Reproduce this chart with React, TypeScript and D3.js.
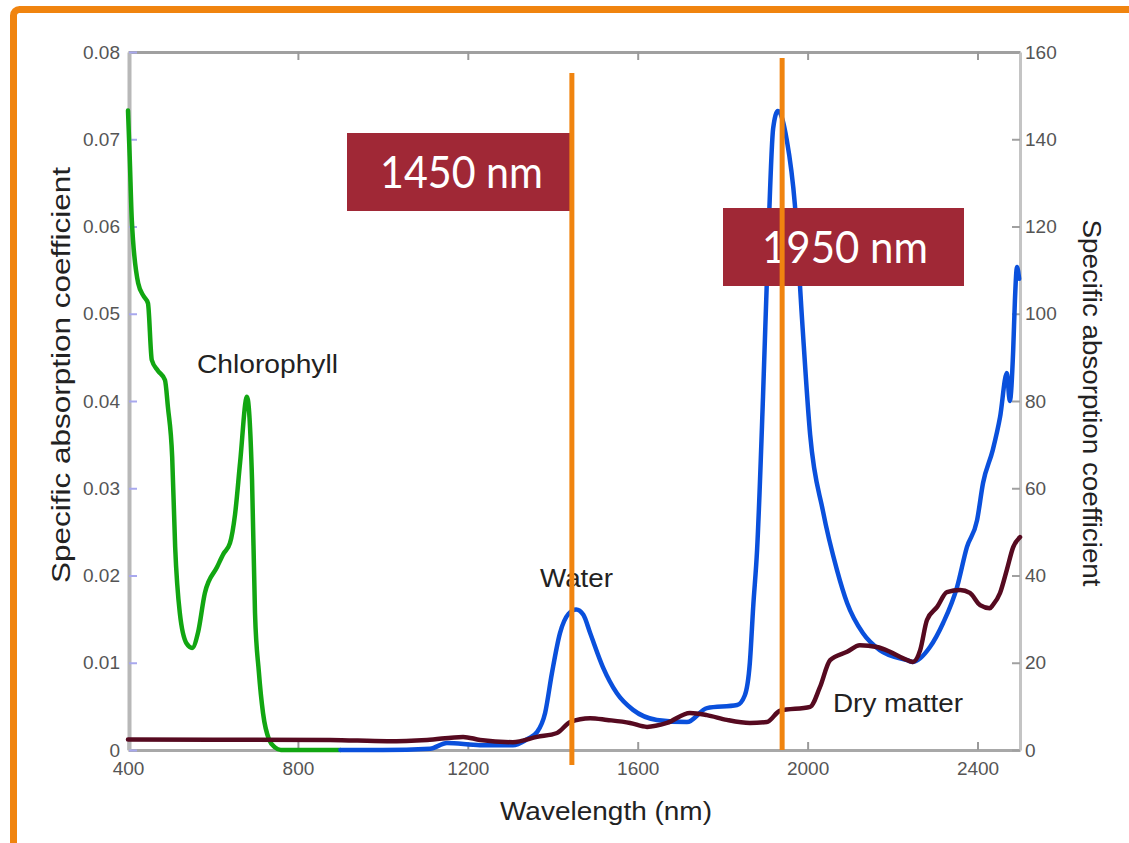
import { useEffect, useRef } from "react";
import * as d3 from "d3";

const width = 1129;
const height = 843;
const margin = { top: 52, right: 109, bottom: 93, left: 128 };

// Chlorophyll (left axis)
const chlWavelength = [400, 404, 409, 424, 437, 447, 456, 470, 487, 494, 504, 511, 522, 538, 551, 565, 581, 610, 625, 640, 652, 664, 680, 692, 699, 708, 718, 732, 746, 760, 900];
const chlValue = [0.0733, 0.068, 0.0607, 0.0535, 0.052, 0.0512, 0.0447, 0.0435, 0.0424, 0.0393, 0.0336, 0.0233, 0.0157, 0.0122, 0.0117, 0.0135, 0.018, 0.021, 0.0225, 0.0237, 0.027, 0.033, 0.0405, 0.031, 0.0157, 0.009, 0.0042, 0.0012, 0.0003, 0, 0];

// Water (right axis)
const waterWavelength = [900, 1000, 1111, 1151, 1229, 1306, 1340, 1363, 1382, 1398, 1417, 1437, 1455, 1472, 1488, 1518, 1551, 1589, 1645, 1716, 1763, 1834, 1852, 1864, 1872, 1881, 1895, 1907, 1919, 1930, 1951, 1970, 1987, 2006, 2036, 2069, 2093, 2130, 2170, 2234, 2248, 2288, 2319, 2352, 2375, 2399, 2413, 2436, 2453, 2469, 2476, 2484, 2488, 2493, 2498];
const waterValue = [0, 0, 0.3, 1.6, 1.1, 1.1, 2.5, 4.1, 8.5, 17.6, 26.8, 31.2, 32.2, 31.0, 26.8, 19, 13, 9.2, 6.9, 6.4, 9.6, 10.3, 12.5, 20, 33, 45.8, 81, 116, 142.6, 146.5, 139.8, 125, 98.6, 72.2, 54.8, 41.3, 33.7, 26.8, 22.9, 20.6, 20.2, 23.6, 29.1, 37.4, 46.5, 52.7, 61.2, 68.8, 76.3, 86.4, 80, 91.7, 103, 110.7, 108];

// Dry matter (right axis)
const dryWavelength = [400, 876, 1010, 1104, 1189, 1229, 1306, 1363, 1410, 1441, 1488, 1528, 1582, 1622, 1669, 1723, 1763, 1810, 1864, 1904, 1935, 2006, 2029, 2053, 2093, 2123, 2163, 2194, 2225, 2248, 2265, 2281, 2305, 2328, 2359, 2382, 2406, 2429, 2436, 2453, 2469, 2484, 2500];
const dryValue = [2.4, 2.3, 2.0, 2.3, 3.0, 2.3, 1.8, 3.0, 3.9, 6.4, 7.3, 6.9, 6.2, 5.3, 6.2, 8.5, 8.0, 6.9, 6.2, 6.4, 9.0, 9.9, 14.4, 20.6, 22.5, 24, 23.6, 22.5, 21, 20.2, 22.9, 29.8, 32.8, 36.2, 36.7, 36, 33.2, 32.5, 33.2, 36, 41.3, 46.5, 48.8];

const xTicks = [400, 800, 1200, 1600, 2000, 2400];
const leftTicks = [0, 0.01, 0.02, 0.03, 0.04, 0.05, 0.06, 0.07, 0.08];
const rightTicks = [0, 20, 40, 60, 80, 100, 120, 140, 160];

// marked wavelengths (as drawn) and their captions
const markerWavelength = [1445, 1940];
const markerLabel = ["1450 nm", "1950 nm"];

const curveLabels = ["Chlorophyll", "Water", "Dry matter"];

const orange = "#f0840f";
const boxColor = "#a02836";
const tickFont = "'Liberation Sans', Arial, sans-serif";

const App = () => {
  const xAxisRef = useRef(null);
  const xTopRef = useRef(null);
  const yLeftRef = useRef(null);
  const yRightRef = useRef(null);

  const xScale = d3.scaleLinear().domain([400, 2500]).range([margin.left, width - margin.right]);
  const yLeft = d3.scaleLinear().domain([0, 0.08]).range([height - margin.bottom, margin.top]);
  const yRight = d3.scaleLinear().domain([0, 160]).range([height - margin.bottom, margin.top]);

  const line = d3
    .line<[number, number]>()
    .x((d) => xScale(d[0]))
    .y((d) => d[1])
    .curve(d3.curveMonotoneX);

  const chlPath = line(chlWavelength.map((w, i) => [w, yLeft(chlValue[i])]));
  const waterPath = line(waterWavelength.map((w, i) => [w, yRight(waterValue[i])]));
  const dryPath = line(dryWavelength.map((w, i) => [w, yRight(dryValue[i])]));

  // Draw the axes
  useEffect(() => {
    const styleTicks = (g: any) => {
      g.selectAll(".tick text")
        .attr("font-size", 19)
        .attr("font-family", tickFont)
        .attr("fill", "#555");
    };

    if (xAxisRef.current) {
      const g = d3.select(xAxisRef.current);
      g.call(
        d3.axisBottom(xScale).tickValues(xTicks).tickFormat(d3.format("d")).tickSizeInner(-8).tickSizeOuter(0).tickPadding(12)
      );
      g.select(".domain").attr("stroke", "#a8a8a8").attr("stroke-width", 3);
      g.selectAll(".tick line").attr("stroke", "#9a9a9a").attr("stroke-width", 2);
      styleTicks(g);
    }

    if (xTopRef.current) {
      const g = d3.select(xTopRef.current);
      g.call(d3.axisTop(xScale).tickValues(xTicks.slice(1)).tickFormat(() => "").tickSizeInner(-8).tickSizeOuter(0));
      g.select(".domain").attr("stroke", "#a0a0a0").attr("stroke-width", 3);
      g.selectAll(".tick line").attr("stroke", "#9a9a9a").attr("stroke-width", 2);
    }

    if (yLeftRef.current) {
      const g = d3.select(yLeftRef.current);
      g.call(
        d3
          .axisLeft(yLeft)
          .tickValues(leftTicks)
          .tickFormat((d: any) => (d === 0 ? "0" : d3.format(".2f")(d)))
          .tickSizeInner(-8)
          .tickSizeOuter(0)
          .tickPadding(9)
      );
      g.select(".domain").attr("stroke", "#b8b8b8").attr("stroke-width", 4);
      g.selectAll(".tick line").attr("stroke", "#a8a8ee").attr("stroke-width", 2);
      styleTicks(g);
    }

    if (yRightRef.current) {
      const g = d3.select(yRightRef.current);
      g.call(d3.axisRight(yRight).tickValues(rightTicks).tickSizeInner(-8).tickSizeOuter(0).tickPadding(5));
      g.select(".domain").attr("stroke", "#c4c4c4").attr("stroke-width", 3);
      g.selectAll(".tick line").attr("stroke", "#a0a0a0").attr("stroke-width", 2);
      styleTicks(g);
    }
  }, []);

  const boxes = [
    { x: 347, y: 133, w: 226, h: 78, tx: 380, tw: 163 },
    { x: 723, y: 208, w: 241, h: 78, tx: 762, tw: 166 },
  ];

  return (
    <svg
      width={width}
      height={height}
      style={{ position: "absolute", left: 0, top: 0, background: "#fff" }}
    >
      {/* slide frame */}
      <rect x={13.5} y={9.5} width={1300} height={1000} rx={6} fill="none" stroke={orange} strokeWidth={7} />

      <g ref={xAxisRef} transform={`translate(0, ${height - margin.bottom})`} />
      <g ref={xTopRef} transform={`translate(0, ${margin.top})`} />
      <g ref={yRightRef} transform={`translate(${width - margin.right}, 0)`} />
      <g ref={yLeftRef} transform={`translate(${margin.left + 1}, 0)`} />

      <path d={chlPath ?? ""} fill="none" stroke="#12a612" strokeWidth={4.5} strokeLinejoin="round" strokeLinecap="round" />
      <path d={waterPath ?? ""} fill="none" stroke="#0a50dc" strokeWidth={4.5} strokeLinejoin="round" strokeLinecap="round" />
      <path d={dryPath ?? ""} fill="none" stroke="#560a20" strokeWidth={4.5} strokeLinejoin="round" strokeLinecap="round" />

      {/* curve labels */}
      <g fontFamily={tickFont} fontSize={26} fill="#222">
        <text x={197} y={373} textLength={141} lengthAdjust="spacingAndGlyphs">{curveLabels[0]}</text>
        <text x={540} y={587} textLength={73} lengthAdjust="spacingAndGlyphs">{curveLabels[1]}</text>
        <text x={833} y={712} textLength={130} lengthAdjust="spacingAndGlyphs">{curveLabels[2]}</text>
      </g>

      {/* axis titles */}
      <g fontFamily={tickFont} fontSize={26} fill="#222">
        <text x={606} y={820} textAnchor="middle" textLength={212} lengthAdjust="spacingAndGlyphs">
          Wavelength (nm)
        </text>
        <text
          transform="translate(70, 375) rotate(-90)"
          textAnchor="middle"
          textLength={416}
          lengthAdjust="spacingAndGlyphs"
        >
          Specific absorption coefficient
        </text>
        <text
          transform="translate(1083, 403) rotate(90)"
          textAnchor="middle"
          textLength={367}
          lengthAdjust="spacingAndGlyphs"
        >
          Specific absorption coefficient
        </text>
      </g>

      {/* caption boxes */}
      {boxes.map((b, i) => (
        <g key={i}>
          <rect x={b.x} y={b.y} width={b.w} height={b.h} fill={boxColor} />
          <text
            x={b.tx}
            y={b.y + b.h / 2 + 16}
            fill="#fff"
            fontFamily="Lato, 'Open Sans', sans-serif"
            fontSize={44}
            textLength={b.tw}
            lengthAdjust="spacingAndGlyphs"
          >
            {markerLabel[i]}
          </text>
        </g>
      ))}

      {/* marker lines */}
      {markerWavelength.map((w, i) => (
        <line
          key={i}
          x1={xScale(w)}
          x2={xScale(w)}
          y1={i === 0 ? 73 : 58}
          y2={i === 0 ? 765 : 750}
          stroke={orange}
          strokeWidth={5}
        />
      ))}
    </svg>
  );
};

export default App;
